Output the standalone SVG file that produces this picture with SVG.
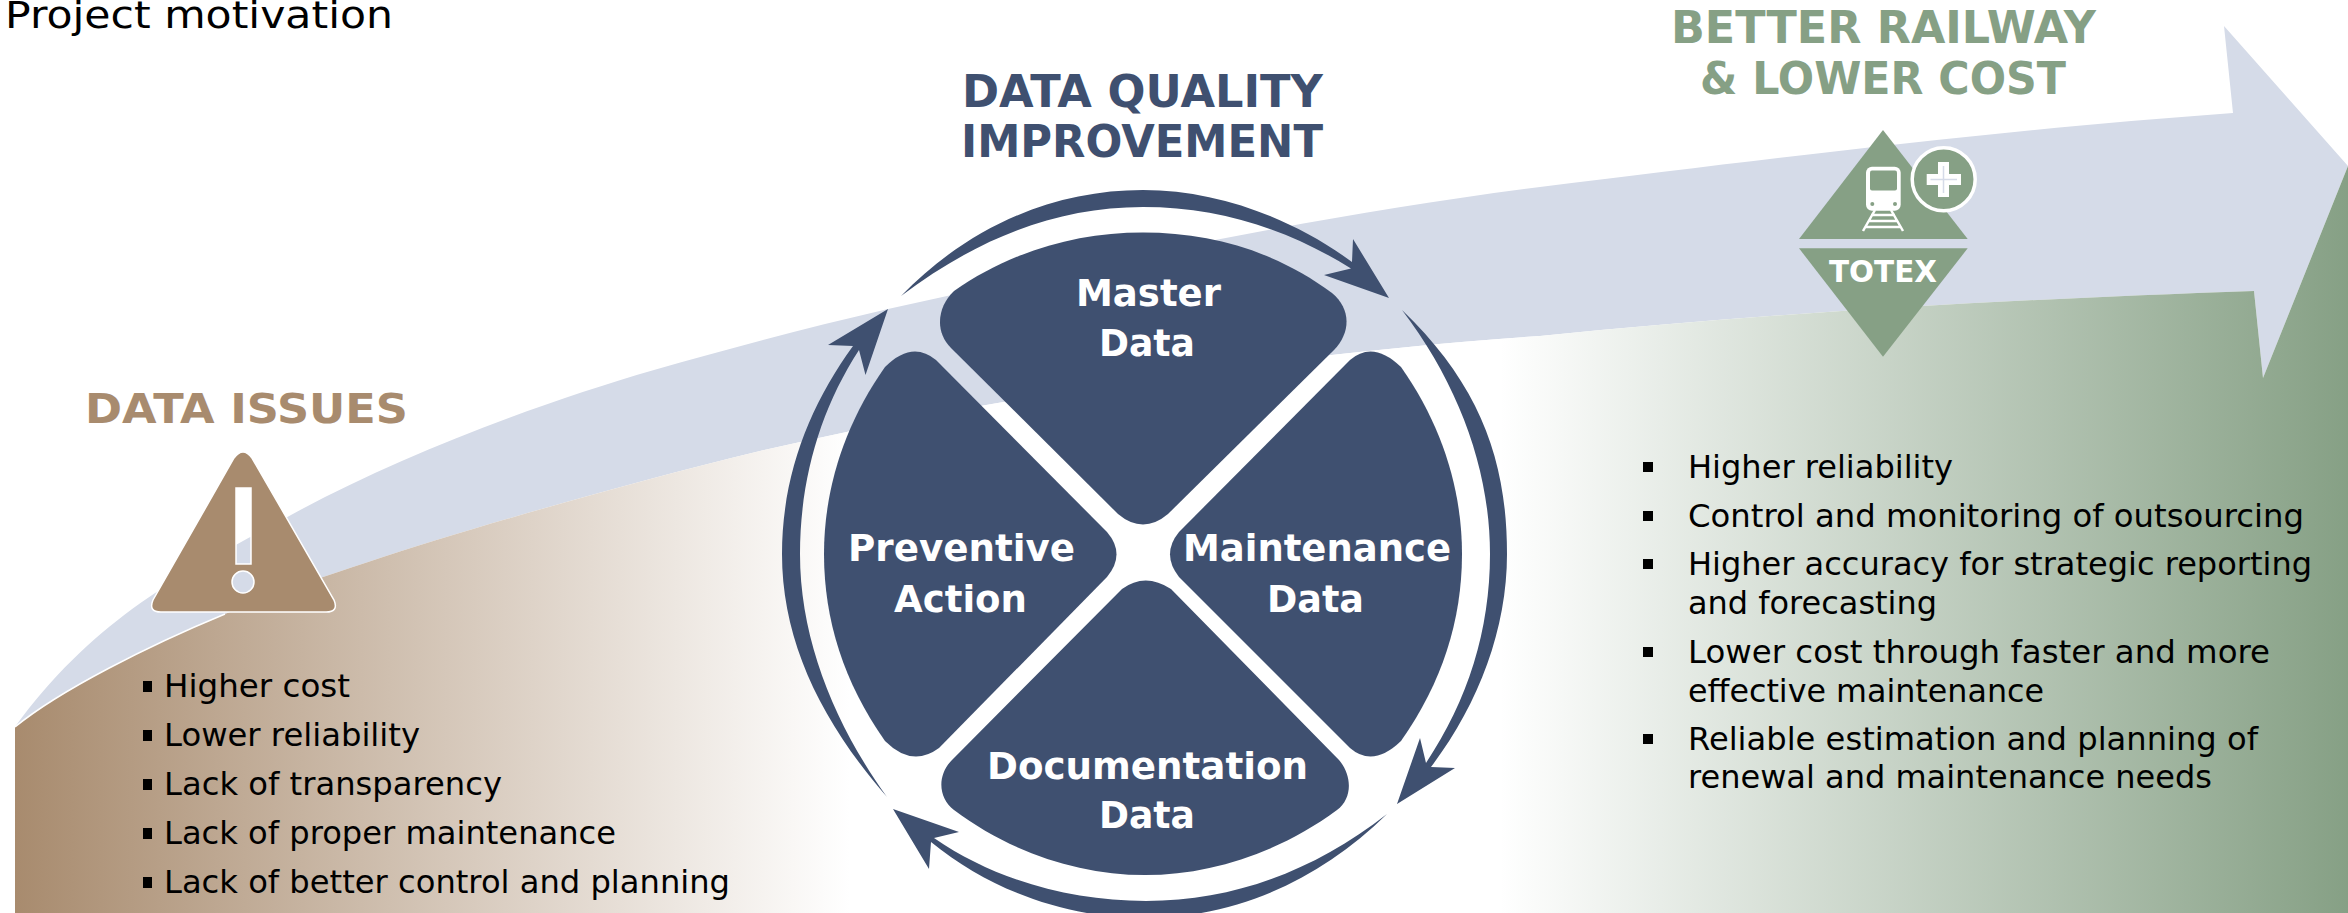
<svg xmlns="http://www.w3.org/2000/svg" width="2348" height="913" viewBox="0 0 2348 913">
<style>
text{font-family:"DejaVu Sans","Liberation Sans",sans-serif}
.body{font-size:32px;fill:#000}
.petal{fill:#3F5070}
.ptxt{font-size:38px;font-weight:700;fill:#fff}
.h{font-weight:700;font-size:45px}
.navy{fill:#3F5070}
.green{fill:#86A085}
.brown{fill:#A88B6E}
.ring{fill:#3F5070}
</style>
<defs>
<linearGradient id="ground" gradientUnits="userSpaceOnUse" x1="15" y1="0" x2="2348" y2="0">
<stop offset="0" stop-color="#A88B6E"/>
<stop offset="0.358" stop-color="#FFFFFF"/>
<stop offset="0.6365" stop-color="#FFFFFF"/>
<stop offset="1" stop-color="#86A085"/>
</linearGradient>
</defs>
<rect width="2348" height="913" fill="#fff"/>
<g id="big-arrow">
<path fill="#D5DBE8" d="M15 727C100 610 200 565 291 515C400 455 540 403 654 370C730 348 810 327 888 309C1100 262 1320 215 1540 187C1800 155 2000 130 2233 113L2224 26L2348 166L2263 378L2254 291C2000 300 1780 312 1540 336C1300 352 1000 395 760 451C540 505 330 570 225 614C150 645 60 690 15 727Z"/>
<path fill="url(#ground)" d="M15 727C60 690 150 645 225 614C330 570 540 505 760 451C1000 395 1300 352 1540 336C1780 312 2000 300 2254 291L2263 378L2348 166V913H15Z"/>
<path fill="none" stroke="#fff" stroke-width="1.5" d="M15 727C60 690 150 645 225 614"/>
</g>
<text x="5" y="28" class="body" style="font-size:38px" textLength="388" lengthAdjust="spacingAndGlyphs">Project motivation</text>
<g id="data-issues">
<text x="85" y="423" class="h brown" style="font-size:41px" textLength="323" lengthAdjust="spacingAndGlyphs">DATA ISSUES</text>
<path class="brown" fill-rule="evenodd" stroke="#fff" stroke-width="1.5" d="M234 458Q243 446 252 458L334 600Q339 612 326 612H161Q148 612 153 600ZM236 488V564H251V488ZM232 582A11 11 0 0 0 254 582A11 11 0 0 0 232 582Z"/>
<g class="body">
<rect x="143" y="681" width="9" height="11"/><text x="164" y="697" class="body" textLength="186" lengthAdjust="spacingAndGlyphs">Higher cost</text>
<rect x="143" y="730" width="9" height="11"/><text x="164" y="746" class="body" textLength="256" lengthAdjust="spacingAndGlyphs">Lower reliability</text>
<rect x="143" y="779" width="9" height="11"/><text x="164" y="795" class="body" textLength="338" lengthAdjust="spacingAndGlyphs">Lack of transparency</text>
<rect x="143" y="828" width="9" height="11"/><text x="164" y="844" class="body" textLength="452" lengthAdjust="spacingAndGlyphs">Lack of proper maintenance</text>
<rect x="143" y="877" width="9" height="11"/><text x="164" y="893" class="body" textLength="566" lengthAdjust="spacingAndGlyphs">Lack of better control and planning</text>
</g>
</g>
<g id="heading-quality">
<text x="962" y="107" class="h navy" textLength="361" lengthAdjust="spacingAndGlyphs">DATA QUALITY</text>
<text x="961" y="157" class="h navy" textLength="362" lengthAdjust="spacingAndGlyphs">IMPROVEMENT</text>
</g>
<g id="connectors">
<path class="ring" d="M901 296C970 225 1055 190 1143 190C1220 190 1295 220 1352 262L1353 239L1389 298L1324 275L1351 268.600C1290 230 1220 207 1143 207C1055 207 975 240 901 296Z"/>
<path class="ring" d="M1402 310C1480 385 1507 460 1507 554C1507 630 1478 705 1431 767L1455 768L1397 804L1420 738L1426 763C1468 700 1490 630 1490 554C1490 470 1459 385 1402 310Z"/>
<path class="ring" d="M1387 814C1320 880 1235 918 1145 918C1065 918 990 890 931 842L929 869L893 809L959 832L934 838C995 880 1070 901 1146 901C1235 901 1315 870 1387 814Z"/>
<path class="ring" d="M887 797C820 720 782 640 782 554C782 475 810 405 853 346L828 345L888 309L865.500 375L859 350C820 410 800 480 800 554C800 640 835 725 887 797Z"/>
</g>
<g id="master-data">
<path class="petal" d="M954 291C1010 252 1075 232.600 1143 232.600C1212 232.600 1277 252 1332 293C1350 308 1352 331 1334 350L1168 514Q1143 535 1118 514L951 348C934 331 938 306 954 291Z"/>
<text x="1076" y="306" class="ptxt" textLength="145" lengthAdjust="spacingAndGlyphs">Master</text>
<text x="1099" y="356" class="ptxt" textLength="96" lengthAdjust="spacingAndGlyphs">Data</text>
</g>
<g id="maintenance-data">
<path class="petal" d="M1179 532L1350 360Q1373 340 1401 367C1442 425 1462 490 1462 554C1462 620 1442 683 1401 741Q1373 768 1350 748L1179 577Q1161 554 1179 532Z"/>
<text x="1183" y="561" class="ptxt" textLength="268" lengthAdjust="spacingAndGlyphs">Maintenance</text>
<text x="1267" y="612" class="ptxt" textLength="97" lengthAdjust="spacingAndGlyphs">Data</text>
</g>
<g id="preventive-action">
<path class="petal" d="M1107 532L936 360Q912 340 885 367C844 425 824 490 824 554C824 620 844 683 885 741Q912 768 939 748L1107 577Q1126 554 1107 532Z"/>
<text x="848" y="561" class="ptxt" textLength="227" lengthAdjust="spacingAndGlyphs">Preventive</text>
<text x="894" y="612" class="ptxt" textLength="133" lengthAdjust="spacingAndGlyphs">Action</text>
</g>
<g id="documentation-data">
<path class="petal" d="M1122 589Q1145 572 1171 589L1339 760C1352 775 1353 798 1337 810C1280 852 1212 875 1145 875C1078 875 1010 852 954 810C938 798 937 775 952 760Z"/>
<text x="987" y="779" class="ptxt" textLength="321" lengthAdjust="spacingAndGlyphs">Documentation</text>
<text x="1099" y="828" class="ptxt" textLength="96" lengthAdjust="spacingAndGlyphs">Data</text>
</g>
<g id="better-railway">
<text x="1671" y="43" class="h green" textLength="425" lengthAdjust="spacingAndGlyphs">BETTER RAILWAY</text>
<text x="1700" y="94" class="h green" textLength="366" lengthAdjust="spacingAndGlyphs">&amp; LOWER COST</text>
<path class="green" d="M1883 130L1967.700 239H1799Z"/>
<path class="green" d="M1799 248.300H1967.700L1883 356.700Z"/>
<g fill="none" stroke="#fff">
<rect x="1866" y="166.700" width="34.700" height="44" rx="6" fill="#fff" stroke="none"/>
<rect x="1870" y="170.500" width="27" height="20" rx="2" class="green" stroke="none"/>
<circle cx="1872.300" cy="204" r="2" class="green" stroke="none"/>
<circle cx="1895" cy="204" r="2" class="green" stroke="none"/>
<path stroke-width="2.500" d="M1875 210L1863 231M1891 210L1903 231M1871 215H1895M1868 221H1898M1865 227H1901"/>
</g>
<circle cx="1943.700" cy="179.300" r="31.500" class="green" stroke="#fff" stroke-width="3.500"/>
<path fill="#fff" d="M1938 162H1949V174H1961V185H1949V197H1938V185H1926.700V174H1938Z"/>
<path fill="none" stroke="#D5DBE8" stroke-width="1.500" d="M1943.500 166V193M1930.500 179.500H1957"/>
<text x="1829" y="281.700" fill="#fff" font-weight="700" font-size="31" textLength="108" lengthAdjust="spacingAndGlyphs">TOTEX</text>
</g>
<g id="benefits">
<rect x="1643" y="462" width="10" height="10"/><text x="1688" y="478" class="body" textLength="265" lengthAdjust="spacingAndGlyphs">Higher reliability</text>
<rect x="1643" y="511" width="10" height="10"/><text x="1688" y="527" class="body" textLength="616" lengthAdjust="spacingAndGlyphs">Control and monitoring of outsourcing</text>
<rect x="1643" y="559" width="10" height="10"/><text x="1688" y="575" class="body" textLength="624" lengthAdjust="spacingAndGlyphs">Higher accuracy for strategic reporting</text>
<text x="1688" y="614" class="body" textLength="249" lengthAdjust="spacingAndGlyphs">and forecasting</text>
<rect x="1643" y="647" width="10" height="10"/><text x="1688" y="663" class="body" textLength="582" lengthAdjust="spacingAndGlyphs">Lower cost through faster and more</text>
<text x="1688" y="702" class="body" textLength="356" lengthAdjust="spacingAndGlyphs">effective maintenance</text>
<rect x="1643" y="734" width="10" height="10"/><text x="1688" y="750" class="body" textLength="570" lengthAdjust="spacingAndGlyphs">Reliable estimation and planning of</text>
<text x="1688" y="788" class="body" textLength="524" lengthAdjust="spacingAndGlyphs">renewal and maintenance needs</text>
</g>
</svg>
